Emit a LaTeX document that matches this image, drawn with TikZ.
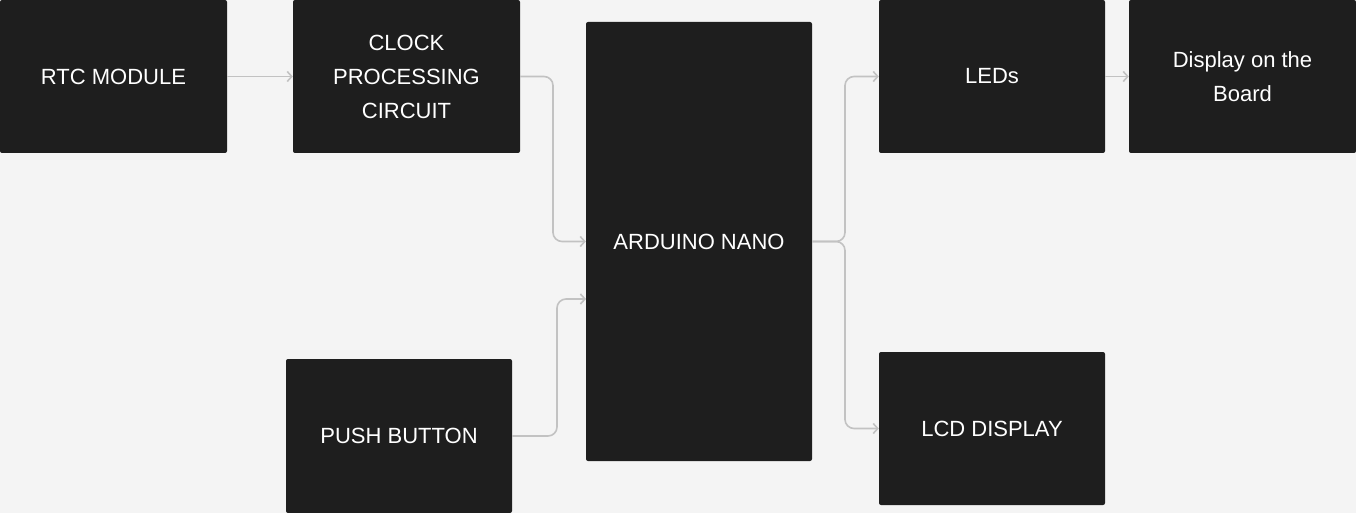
\documentclass[tikz,border=0pt]{standalone}
\usepackage{fontspec}
\setmainfont{Liberation Sans}
\usetikzlibrary{arrows.meta}

\definecolor{boxfill}{HTML}{1E1E1E}
\definecolor{pagebg}{HTML}{F4F4F4}
\definecolor{wire}{HTML}{C2C2C2}

\tikzset{
  block/.style={fill=boxfill, text=white, rounded corners=2pt, align=center,
    inner sep=0pt, font=\fontsize{22}{34}\selectfont},
  link/.style={draw=wire, line width=1.6pt, rounded corners=9pt,
    -{Straight Barb[length=4.5pt,width=10pt,line width=1.6pt]}}
}

\begin{document}
\begin{tikzpicture}[x=1pt,y=-1pt]
				\fill[pagebg] (0,0) rectangle (1356,513);
				\useasboundingbox (0,0) rectangle (1356,513);
				% blocks
				\node[block, minimum width=227pt, minimum height=153pt] (rtc) at (113.5,76.5) {RTC MODULE};
				\node[block, minimum width=227pt, minimum height=153pt] (clk) at (406.5,76.5) {CLOCK\\PROCESSING\\CIRCUIT};
				\node[block, minimum width=226pt, minimum height=439pt] (nano) at (699,241.5) {ARDUINO NANO};
				\node[block, minimum width=226pt, minimum height=154pt] (btn) at (399,436) {PUSH BUTTON};
				\node[block, minimum width=226pt, minimum height=153pt] (leds) at (992,76.5) {LEDs};
				\node[block, minimum width=227pt, minimum height=153pt] (board) at (1242.5,76.5) {Display on the\\Board};
				\node[block, minimum width=226pt, minimum height=153pt] (lcd) at (992,428.5) {LCD DISPLAY};
				% inputs
				\coordinate (nanoin) at (586,299);
				\draw[link] (rtc) -- (clk);
				\draw[link] (clk.east) -- (553,76.5) |- (nano.west);
				\draw[link] (btn.east) -- (557,436) |- (nanoin);
				% outputs
				\draw[link] (nano.east) -- (845,241.5) |- (leds.west);
				\draw[link] (nano.east) -- (845,241.5) |- (lcd.west);
				\draw[link] (leds) -- (board);
\end{tikzpicture}
\end{document}
